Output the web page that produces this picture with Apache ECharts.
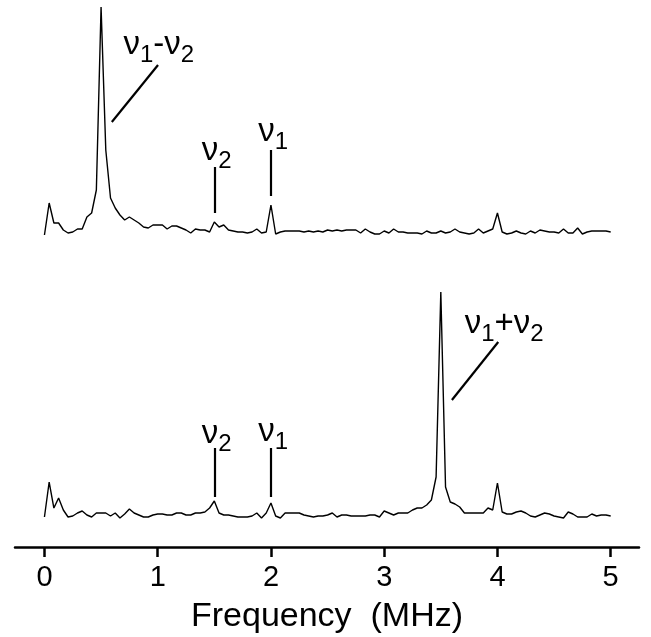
<!DOCTYPE html>
<html>
<head>
<meta charset="utf-8">
<script src="https://cdn.jsdelivr.net/npm/echarts@6/dist/echarts.min.js"></script>
<style>
  html, body { margin: 0; background: #fff; }
  #chart { width: 651px; height: 637px; }
</style>
</head>
<body>
<div id="chart"></div>
<script>
// spectra sampled every 1/24 MHz from 0 to 5 MHz
const step = 1 / 24
const upperSpectrum = [
  0, 32, 12, 12, 5, 2, 3, 6, 6, 18, 22, 45, 228, 85, 37, 27, 20, 15, 18, 15,
  12, 8, 7, 10, 10, 10, 6, 9, 9, 7, 5, 2, 6, 5, 5, 3, 13, 8, 10, 5,
  4, 3, 3, 2, 3, 6, 2, 3, 30, 1, 3, 4, 4, 4, 4, 3, 4, 3, 4, 3,
  5, 4, 5, 4, 5, 5, 5, 2, 6, 3, 1, 1, 4, 2, 6, 3, 3, 2, 2, 2,
  1, 4, 2, 2, 4, 2, 3, 6, 3, 2, 1, 2, 6, 2, 4, 6, 22, 3, 1, 2,
  4, 2, 1, 4, 2, 5, 4, 3, 3, 2, 6, 2, 2, 7, 1, 3, 4, 4, 4, 4,
  3
]
const lowerSpectrum = [
  3, 38, 12, 22, 10, 3, 4, 7, 9, 5, 3, 7, 7, 7, 4, 7, 2, 6, 11, 7,
  5, 3, 3, 5, 6, 6, 5, 5, 7, 7, 5, 5, 7, 7, 8, 12, 19, 7, 5, 5,
  4, 3, 3, 3, 4, 7, 2, 7, 17, 4, 2, 7, 7, 7, 7, 5, 4, 3, 4, 4,
  5, 7, 3, 5, 5, 4, 4, 4, 4, 5, 5, 3, 9, 7, 5, 7, 7, 7, 10, 12,
  12, 15, 20, 43, 228, 33, 18, 16, 13, 7, 7, 7, 7, 7, 12, 10, 37, 8, 6, 6,
  8, 9, 7, 4, 3, 5, 7, 6, 4, 3, 2, 8, 6, 3, 3, 3, 6, 4, 5, 5,
  4
]
const tickValues = [0, 1, 2, 3, 4, 5]

// peak labels: text, label centre and leader line, in data units
const upperNotes = [
  { text: '{n|ν}{s|1}{n|-ν}{s|2}', at: [1.01, 190], line: [[0.595, 113], [1.003, 170]] },
  { text: '{n|ν}{s|2}', at: [1.52, 84], line: [[1.5, 22], [1.5, 68]] },
  { text: '{n|ν}{s|1}', at: [2.02, 103], line: [[2.0, 39], [2.0, 85]] }
]
const lowerNotes = [
  { text: '{n|ν}{s|2}', at: [1.52, 86], line: [[1.5, 23], [1.5, 72]] },
  { text: '{n|ν}{s|1}', at: [2.02, 88], line: [[2.0, 23], [2.0, 72]] },
  { text: '{n|ν}{s|1}{n|+ν}{s|2}', at: [4.06, 196], line: [[3.598, 120], [4.007, 178]] }
]

const font = 'Liberation Sans, Arial, Helvetica, sans-serif'

const toPoints = values => values.map((v, i) => [i * step, v])

const makeSeries = (values, idx, notes) => ({
  type: 'line',
  xAxisIndex: idx,
  yAxisIndex: idx,
  data: toPoints(values),
  showSymbol: false,
  silent: true,
  animation: false,
  lineStyle: { color: '#000', width: 1.4 },
  markLine: {
    silent: true,
    symbol: 'none',
    animation: false,
    label: { show: false },
    lineStyle: { color: '#000', width: 2.2, type: 'solid' },
    data: notes.map(n => [{ coord: n.line[0] }, { coord: n.line[1] }])
  },
  markPoint: {
    silent: true,
    symbol: 'circle',
    symbolSize: 0,
    animation: false,
    label: {
      show: true,
      position: 'inside',
      color: '#000',
      rich: {
        n: { fontSize: 33, fontFamily: font, color: '#000' },
        s: { fontSize: 24, fontFamily: font, color: '#000', padding: [20, 0, 0, 0] }
      }
    },
    data: notes.map(n => ({ coord: n.at, label: { formatter: n.text } }))
  }
})

const chart = echarts.init(document.getElementById('chart'))

chart.setOption({
  backgroundColor: '#fff',
  animation: false,
  grid: [
    { left: 15, right: 12, top: 0, height: 235, outerBoundsMode: 'none' },
    { left: 15, right: 12, top: 285, height: 262, outerBoundsMode: 'none' }
  ],
  xAxis: [
    { gridIndex: 0, type: 'value', min: -0.26, max: 5.25, show: false },
    {
      gridIndex: 1,
      type: 'value',
      min: -0.26,
      max: 5.25,
      name: 'Frequency  (MHz)',
      nameLocation: 'middle',
      nameGap: 53,
      nameTextStyle: { fontSize: 34, fontFamily: font, color: '#000' },
      axisLine: { onZero: false, lineStyle: { color: '#000', width: 2.5 } },
      axisTick: { customValues: tickValues, length: 10, lineStyle: { color: '#000', width: 2.5 } },
      axisLabel: { customValues: tickValues, fontSize: 29, fontFamily: font, color: '#000', margin: 16 },
      splitLine: { show: false }
    }
  ],
  yAxis: [
    { gridIndex: 0, type: 'value', min: 0, max: 235, show: false },
    { gridIndex: 1, type: 'value', min: -27, max: 235, show: false }
  ],
  series: [
    makeSeries(upperSpectrum, 0, upperNotes),
    makeSeries(lowerSpectrum, 1, lowerNotes)
  ]
})

window.addEventListener('resize', () => chart.resize())
</script>
</body>
</html>
